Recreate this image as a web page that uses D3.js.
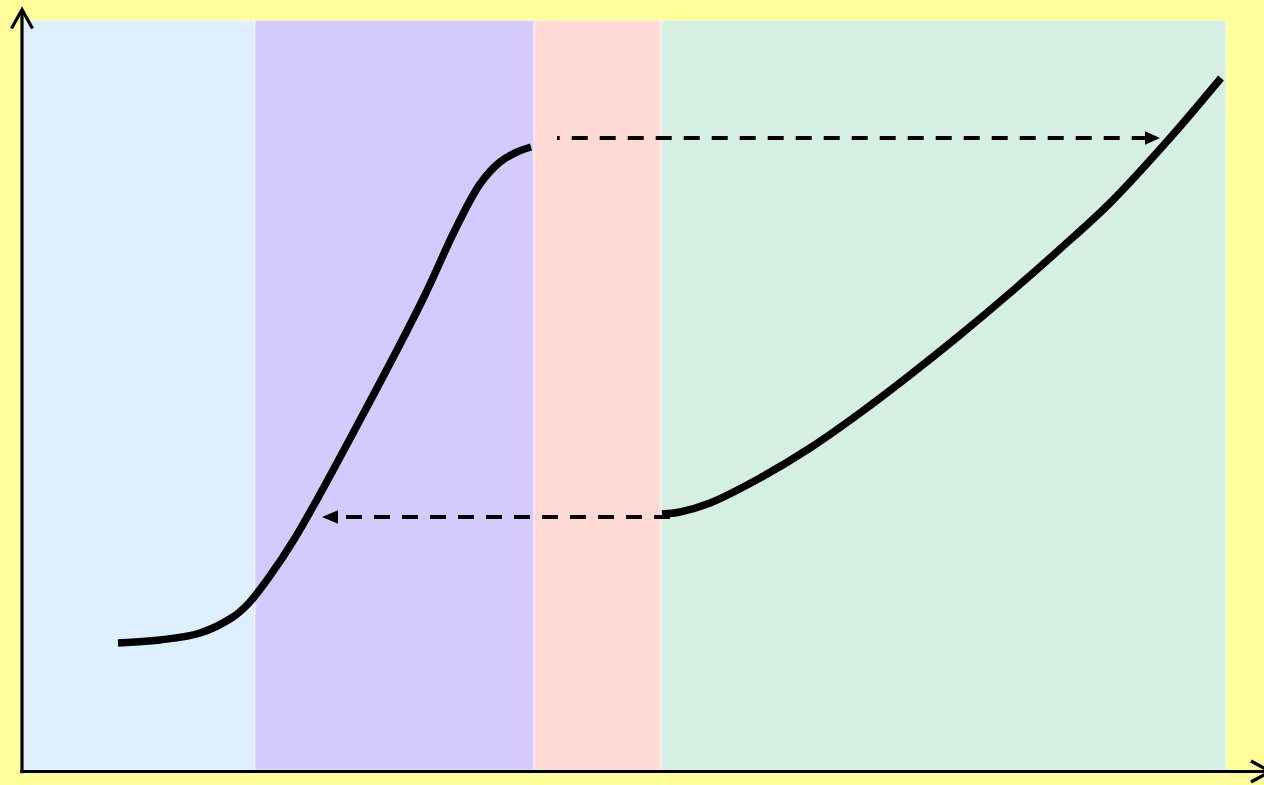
<!DOCTYPE html>
<html>
<head>
<meta charset="utf-8">
<script src="https://cdn.jsdelivr.net/npm/d3@7"></script>
<style>
    body { margin: 0; background: #FFFF99; }
</style>
</head>
<body>
<div id="canvas"></div>
<script>
"use strict";

/* Global Variables */
let svgWidth = 1264;
let svgHeight = 785;

// Phase regions (x start, x end) in chart units
let regionNames = ["phase1", "phase2", "phase3", "phase4"];
let regionStart = [0.1, 23.3, 51.2, 63.9];
let regionEnd = [23.3, 51.2, 63.9, 120.4];
let regionColors = ["#DEF0FF", "#D4CAFE", "#FFD9D3", "#D5F0E3"];
let regionTop = 75.1;

// First curve (S-shape)
let curve1X = [9.6, 13.8, 17.8, 21.1, 22.6, 24.5, 27.3, 33.8, 40.1, 43.3, 45.8, 47.8, 49.5, 50.9];
let curve1Y = [12.85, 13.15, 13.85, 15.45, 16.75, 19.15, 23.35, 35.15, 47.25, 54.15, 58.75, 60.95, 61.95, 62.45];

// Second curve (rising)
let curve2X = [64.0, 65.8, 68.8, 73.8, 78.8, 83.8, 88.8, 93.8, 98.8, 103.8, 108.8, 114.8, 119.9];
let curve2Y = [25.75, 25.95, 26.85, 29.35, 32.35, 35.85, 39.65, 43.65, 47.85, 52.25, 56.85, 63.35, 69.35];

// Dashed arrows: x from, x to (base of head), x tip, y
let arrowFrom = [53.5, 64.8];
let arrowTo = [112.3, 31.6];
let arrowTip = [113.8, 30.0];
let arrowY = [63.35, 25.45];

let svg;

(function() {
    createSVG();
    drawChart();
})();

function createSVG() {
    svg = d3.select("#canvas")
        .append("svg")
        .attr("width", svgWidth)
        .attr("height", svgHeight);

    // Yellow background
    svg.append("rect")
        .attr("width", svgWidth)
        .attr("height", svgHeight)
        .attr("fill", "#FFFF99");
}

function drawChart() {
    // 1 unit = 10 px
    let xScale = d3.scaleLinear()
        .domain([0, 124])
        .range([22, 1262]);

    let yScale = d3.scaleLinear()
        .domain([0, 75])
        .range([771.5, 21.5]);

    // Coloured phase regions
    for (let i = 0; i < regionNames.length; i++) {
        svg.append("rect")
            .attr("x", xScale(regionStart[i]))
            .attr("y", yScale(regionTop))
            .attr("width", xScale(regionEnd[i]) - xScale(regionStart[i]))
            .attr("height", yScale(0.1) - yScale(regionTop))
            .attr("fill", regionColors[i])
            .attr("stroke", "white")
            .attr("stroke-opacity", 0.3)
            .attr("stroke-width", 2);
    }

    // Curves
    let line = d3.line()
        .x(function(d) { return xScale(d[0]); })
        .y(function(d) { return yScale(d[1]); })
        .curve(d3.curveCatmullRom.alpha(0.5));

    let curves = [d3.zip(curve1X, curve1Y), d3.zip(curve2X, curve2Y)];

    svg.selectAll("path.curve")
        .data(curves)
        .join("path")
        .classed("curve", true)
        .attr("d", line)
        .attr("fill", "none")
        .attr("stroke", "black")
        .attr("stroke-width", 7.5)
        .attr("stroke-linecap", "butt");

    // Dashed arrows
    let dashOffsets = [13.3, 0];
    for (let i = 0; i < arrowFrom.length; i++) {
        let y = yScale(arrowY[i]);
        svg.append("line")
            .attr("x1", xScale(arrowFrom[i]))
            .attr("x2", xScale(arrowTo[i]))
            .attr("y1", y)
            .attr("y2", y)
            .attr("stroke", "black")
            .attr("stroke-width", 3.8)
            .attr("stroke-dasharray", "16,12")
            .attr("stroke-dashoffset", dashOffsets[i]);

        let base = xScale(arrowTo[i]);
        let tip = xScale(arrowTip[i]);
        svg.append("path")
            .attr("d", "M" + tip + "," + y + "L" + base + "," + (y - 6.8) + "L" + base + "," + (y + 6.8) + "Z")
            .attr("fill", "black");
    }

    // Axes with open arrowheads
    let x0 = xScale(0);
    let y0 = yScale(0);
    let yTop = yScale(76.2);
    let xRight = xScale(124.8);

    svg.append("line")
        .attr("x1", x0).attr("y1", y0 + 1.8)
        .attr("x2", x0).attr("y2", yTop)
        .attr("stroke", "black").attr("stroke-width", 3.2);

    svg.append("line")
        .attr("x1", x0 - 1.6).attr("y1", y0)
        .attr("x2", xRight).attr("y2", y0)
        .attr("stroke", "black").attr("stroke-width", 3.2);

    svg.append("path")
        .attr("d", "M" + (x0 - 10.5) + "," + (yTop + 19) + "L" + x0 + "," + yTop + "L" + (x0 + 10.5) + "," + (yTop + 19))
        .attr("fill", "none").attr("stroke", "black").attr("stroke-width", 3.2);

    svg.append("path")
        .attr("d", "M" + (xRight - 19) + "," + (y0 - 10.5) + "L" + xRight + "," + y0 + "L" + (xRight - 19) + "," + (y0 + 10.5))
        .attr("fill", "none").attr("stroke", "black").attr("stroke-width", 3.2);
}
</script>
</body>
</html>
